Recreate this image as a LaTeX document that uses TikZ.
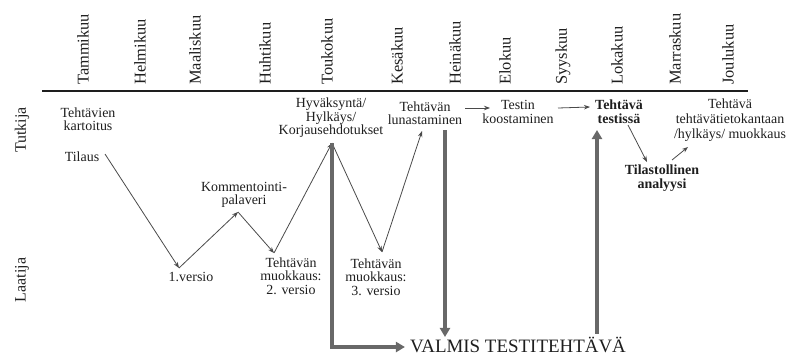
\documentclass[tikz,border=0pt]{standalone}
\usepackage{fontspec}
\setmainfont{Liberation Serif}
\usetikzlibrary{arrows.meta}
\definecolor{txt}{HTML}{1E1E1E}
\definecolor{thinc}{HTML}{4A4A4A}
\definecolor{thickc}{HTML}{686868}
\begin{document}
\begin{tikzpicture}[x=1bp,y=-1bp,
  lbl/.style={align=center, inner sep=0pt, text=txt, font=\fontsize{14}{13.5}\selectfont},
  lblb/.style={align=center, inner sep=0pt, text=txt, font=\fontsize{14}{14}\selectfont\bfseries},
  monthlbl/.style={rotate=90, anchor=west, inner sep=0pt, text=txt, font=\fontsize{16.5}{18}\selectfont},
  rowlbl/.style={rotate=90, inner sep=0pt, text=txt, font=\fontsize{16}{18}\selectfont},
  bigtxt/.style={inner sep=0pt, text=txt, font=\fontsize{19}{20}\selectfont},
  thinarr/.style={draw=thinc, line width=0.8bp, -{Stealth[length=6bp,width=4.5bp]}},
  thickarr/.style={draw=thickc, line width=4.5bp, -{Triangle[length=9bp,width=10bp]}}]
\useasboundingbox (0,0) rectangle (794,356);

% months
\node[monthlbl] (m1) at (83,85) {Tammikuu};
\node[monthlbl] (m2) at (140,85) {Helmikuu};
\node[monthlbl] (m3) at (195,85) {Maaliskuu};
\node[monthlbl] (m4) at (265,85) {Huhtikuu};
\node[monthlbl] (m5) at (327,85) {Toukokuu};
\node[monthlbl] (m6) at (397,85) {Kesäkuu};
\node[monthlbl] (m7) at (455,85) {Heinäkuu};
\node[monthlbl] (m8) at (505,85) {Elokuu};
\node[monthlbl] (m9) at (563,85) {Syyskuu};
\node[monthlbl] (m10) at (617,85) {Lokakuu};
\node[monthlbl] (m11) at (675,85) {Marraskuu};
\node[monthlbl] (m12) at (728,85) {Joulukuu};

\coordinate (hl1) at (42,91);
\coordinate (hl2) at (748,91);
\draw[txt, line width=1.4bp] (hl1) -- (hl2);

% rows
\node[rowlbl] (tutkija) at (22,130) {Tutkija};
\node[rowlbl] (laatija) at (22,280) {Laatija};

% activities
\node[lbl] (kart) at (88,119) {Tehtävien\\kartoitus};
\node[lbl] (tilaus) at (82,157) {Tilaus};
\node[lbl] (komm) at (244,195) {Kommentointi-\\palaveri};
\node[lbl] (v1) at (191,277) {1.versio};
\node[lbl] (v2) at (291,276) {Tehtävän\\muokkaus:\\2. versio};
\node[lbl] (hyv) at (331,118) {Hyväksyntä/\\Hylkäys/\\Korjausehdotukset};
\node[lbl] (v3) at (376,277) {Tehtävän\\muokkaus:\\3. versio};
\node[lbl] (lun) at (425,113) {Tehtävän\\lunastaminen};
\node[lbl] (test) at (518,112) {Testin\\koostaminen};
\node[lblb] (tes) at (619,112) {Tehtävä\\testissä};
\node[lblb] (tilas) at (662,178) {Tilastollinen\\analyysi};
\node[lbl, font=\fontsize{14}{15}\selectfont] (kanta) at (730,120) {Tehtävä\\tehtävätietokantaan\\/hylkäys/ muokkaus};
\node[bigtxt] (valmis) at (518,345) {VALMIS TESTITEHTÄVÄ};

% thin arrows
\draw[thinarr] ([shift={(23,-3)}]tilaus.center) -- ([shift={(-12,-9)}]v1.center);
\draw[thinarr] ([shift={(-12,-9)}]v1.center) -- ([shift={(-6,17)}]komm.center);
\draw[thinarr] ([shift={(-6,17)}]komm.center) -- ([shift={(-17,-23)}]v2.center);
\draw[thinarr] ([shift={(-17,-23)}]v2.center) -- ([shift={(1,25)}]hyv.center);
\draw[thinarr] ([shift={(1,25)}]hyv.center) -- ([shift={(6,-25)}]v3.center);
\draw[thinarr] ([shift={(6,-25)}]v3.center) -- ([shift={(-3,18)}]lun.center);
\draw[thinarr] ([shift={(40,-5)}]lun.center) -- ([shift={(-28,-4)}]test.center);
\draw[thinarr] ([shift={(40,-4)}]test.center) -- ([shift={(-29,-5)}]tes.center);
\draw[thinarr] ([shift={(9,13)}]tes.center) -- ([shift={(-15,-16)}]tilas.center);
\draw[thinarr] ([shift={(10,-18)}]tilas.center) -- ([shift={(-42,27)}]kanta.center);

% thick arrows
\coordinate (hb) at ([shift={(1,25)}]hyv.center);
\coordinate (lb) at ([shift={(20,17)}]lun.center);
\coordinate (tb) at ([shift={(-22,18)}]tes.center);
\draw[thickarr] (hb) |- ([shift={(-5,2)}]valmis.west);
\draw[thickarr] (lb) -- (lb |- valmis.north);
\draw[thickarr] ([shift={(0,-3)}]tb |- valmis.north) -- (tb);
\end{tikzpicture}
\end{document}
